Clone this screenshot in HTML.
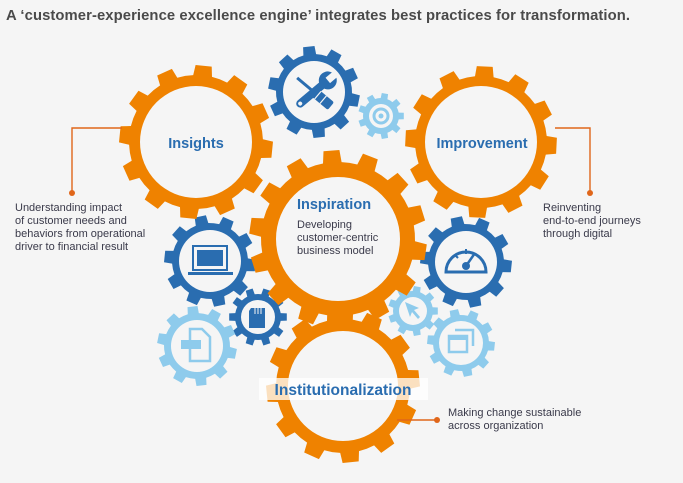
<!DOCTYPE html>
<html><head><meta charset="utf-8"><style>
html,body{margin:0;padding:0;background:#f5f5f5;}
body{width:683px;height:483px;overflow:hidden;font-family:"Liberation Sans",Arial,sans-serif;}
</style></head><body>
<svg id="s" width="683" height="483" viewBox="0 0 683 483" xmlns="http://www.w3.org/2000/svg" style="position:absolute;left:0;top:0">
<rect width="683" height="483" fill="#f5f5f5"/>
<text x="6" y="20" font-size="14.8" font-weight="bold" fill="#4a4a4a" textLength="624">A ‘customer-experience excellence engine’ integrates best practices for transformation.</text>
<g id="gears"></g>
<g stroke="#e0661a" stroke-width="1.4" fill="none">
<polyline points="122,128 72,128 72,193"/>
<polyline points="555,128 590,128 590,193"/>
<line x1="397" y1="420" x2="437" y2="420"/>
</g>
<g fill="#e0661a"><circle cx="72" cy="193" r="3"/><circle cx="590" cy="193" r="3"/><circle cx="437" cy="420" r="3"/></g>
<g id="icons"></g>
<rect x="259" y="378" width="169" height="22" fill="#ffffff" opacity="0.75"/>
<g font-weight="bold" fill="#2a6db0" text-anchor="middle">
<text x="196" y="148" font-size="14.5">Insights</text>
<text x="482" y="148" font-size="14.5">Improvement</text>
<text x="334" y="209" font-size="14.5">Inspiration</text>
<text x="343" y="395" font-size="15.5">Institutionalization</text>
</g>
<g font-size="11" fill="#3a3a4a">
<text x="297" y="228">Developing</text>
<text x="297" y="241">customer-centric</text>
<text x="297" y="254">business model</text>
<text x="15" y="211">Understanding impact</text>
<text x="15" y="224">of customer needs and</text>
<text x="15" y="237">behaviors from operational</text>
<text x="15" y="250">driver to financial result</text>
<text x="543" y="211">Reinventing</text>
<text x="543" y="224">end-to-end journeys</text>
<text x="543" y="237">through digital</text>
<text x="448" y="416">Making change sustainable</text>
<text x="448" y="429">across organization</text>
</g>
</svg>
<script>
function gear(cx,cy,ro,rb,rh,n,col,rot){
  rot=rot||0;var p=[],step=Math.PI*2/n;
  for(var i=0;i<n;i++){
    var a=rot+i*step;
    var pts=[[a-step*0.5,rb],[a-step*0.27,rb],[a-step*0.2,ro],[a+step*0.2,ro],[a+step*0.27,rb]];
    pts.forEach(function(q){p.push((cx+q[1]*Math.cos(q[0])).toFixed(1)+','+(cy+q[1]*Math.sin(q[0])).toFixed(1));});
  }
  var d='M'+p.join('L')+'Z M'+(cx+rh)+','+cy+' a'+rh+','+rh+' 0 1,0 '+(-2*rh)+',0 a'+rh+','+rh+' 0 1,0 '+(2*rh)+',0Z';
  return '<path d="'+d+'" fill="'+col+'" fill-rule="evenodd"/>';
}
var O='#ef8200',B='#2a6db0',L='#8ecbec',h='';
h+=gear(314,92,46,38,31,10,B,0.2);
h+=gear(381,116,23,18,12,9,L,0);
h+=gear(210,261,46,38,31,10,B,0.1);
h+=gear(258,317,29,23,17,10,B,0);
h+=gear(197,346,40,33,26,10,L,0.2);
h+=gear(466,262,46,38,31,10,B,0.1);
h+=gear(413,311,25,20,14,9,L,0);
h+=gear(461,343,34,28,22,10,L,0.1);
h+=gear(196,142,77,67,56,12,O,0.1);
h+=gear(481,142,76,66,56,12,O,0.05);
h+=gear(343,386,77,67,55,12,O,-0.1);
h+=gear(338,239,89,77,62,14,O,0.15);
document.getElementById('gears').innerHTML=h;
var ic='';
ic+='<g transform="translate(314,92) rotate(-40)"><rect x="-22" y="-4" width="36" height="8" rx="4" fill="'+B+'"/><circle cx="18" cy="0" r="9" fill="'+B+'"/><rect x="18" y="-3.5" width="10" height="7" fill="#f5f5f5"/><circle cx="-18" cy="0" r="2" fill="#f5f5f5"/></g>';
ic+='<g transform="translate(314,92) rotate(40)"><rect x="-22" y="-1.5" width="20" height="3" fill="'+B+'"/><rect x="-2" y="-5" width="24" height="10" rx="2" fill="'+B+'"/><line x1="5" y1="-5" x2="5" y2="5" stroke="#f5f5f5" stroke-width="1.2"/><line x1="12" y1="-5" x2="12" y2="5" stroke="#f5f5f5" stroke-width="1.2"/></g>';
ic+='<circle cx="381" cy="116" r="7" fill="none" stroke="'+L+'" stroke-width="3"/><circle cx="381" cy="116" r="2.5" fill="'+L+'"/>';
ic+='<rect x="193" y="246" width="34" height="24" fill="none" stroke="'+B+'" stroke-width="2"/><rect x="197" y="250" width="26" height="16" fill="'+B+'"/><rect x="188" y="272" width="45" height="3" fill="'+B+'"/>';
ic+='<path d="M251,308 h14 v20 h-16 v-17z" fill="'+B+'"/><g stroke="#f5f5f5" stroke-width="1"><line x1="255" y1="308" x2="255" y2="314"/><line x1="258" y1="308" x2="258" y2="314"/><line x1="261" y1="308" x2="261" y2="314"/></g>';
ic+='<path d="M190,329 h12 l8,8 v24 h-20z" fill="none" stroke="'+L+'" stroke-width="2.5"/><rect x="181" y="340" width="20" height="9" fill="'+L+'"/>';
ic+='<path d="M446,272 a20,20 0 1,1 40,0 z" fill="none" stroke="'+B+'" stroke-width="3"/><circle cx="466" cy="266" r="4" fill="'+B+'"/><line x1="466" y1="266" x2="475" y2="253" stroke="'+B+'" stroke-width="2.5"/><line x1="466" y1="249" x2="466" y2="254" stroke="'+B+'" stroke-width="2"/><line x1="455" y1="255" x2="458" y2="258" stroke="'+B+'" stroke-width="2"/>';
ic+='<path d="M405,302 l14,6 l-5,2 l6,7 l-2,2 l-6,-7 l-2,5 z" fill="'+L+'"/>';
ic+='<rect x="449" y="336" width="18" height="16" fill="none" stroke="'+L+'" stroke-width="2.5"/><rect x="449" y="336" width="18" height="4" fill="'+L+'"/><path d="M455,330 h18 v16" fill="none" stroke="'+L+'" stroke-width="2.5"/>';
document.getElementById('icons').innerHTML=ic;
</script>
</body></html>
